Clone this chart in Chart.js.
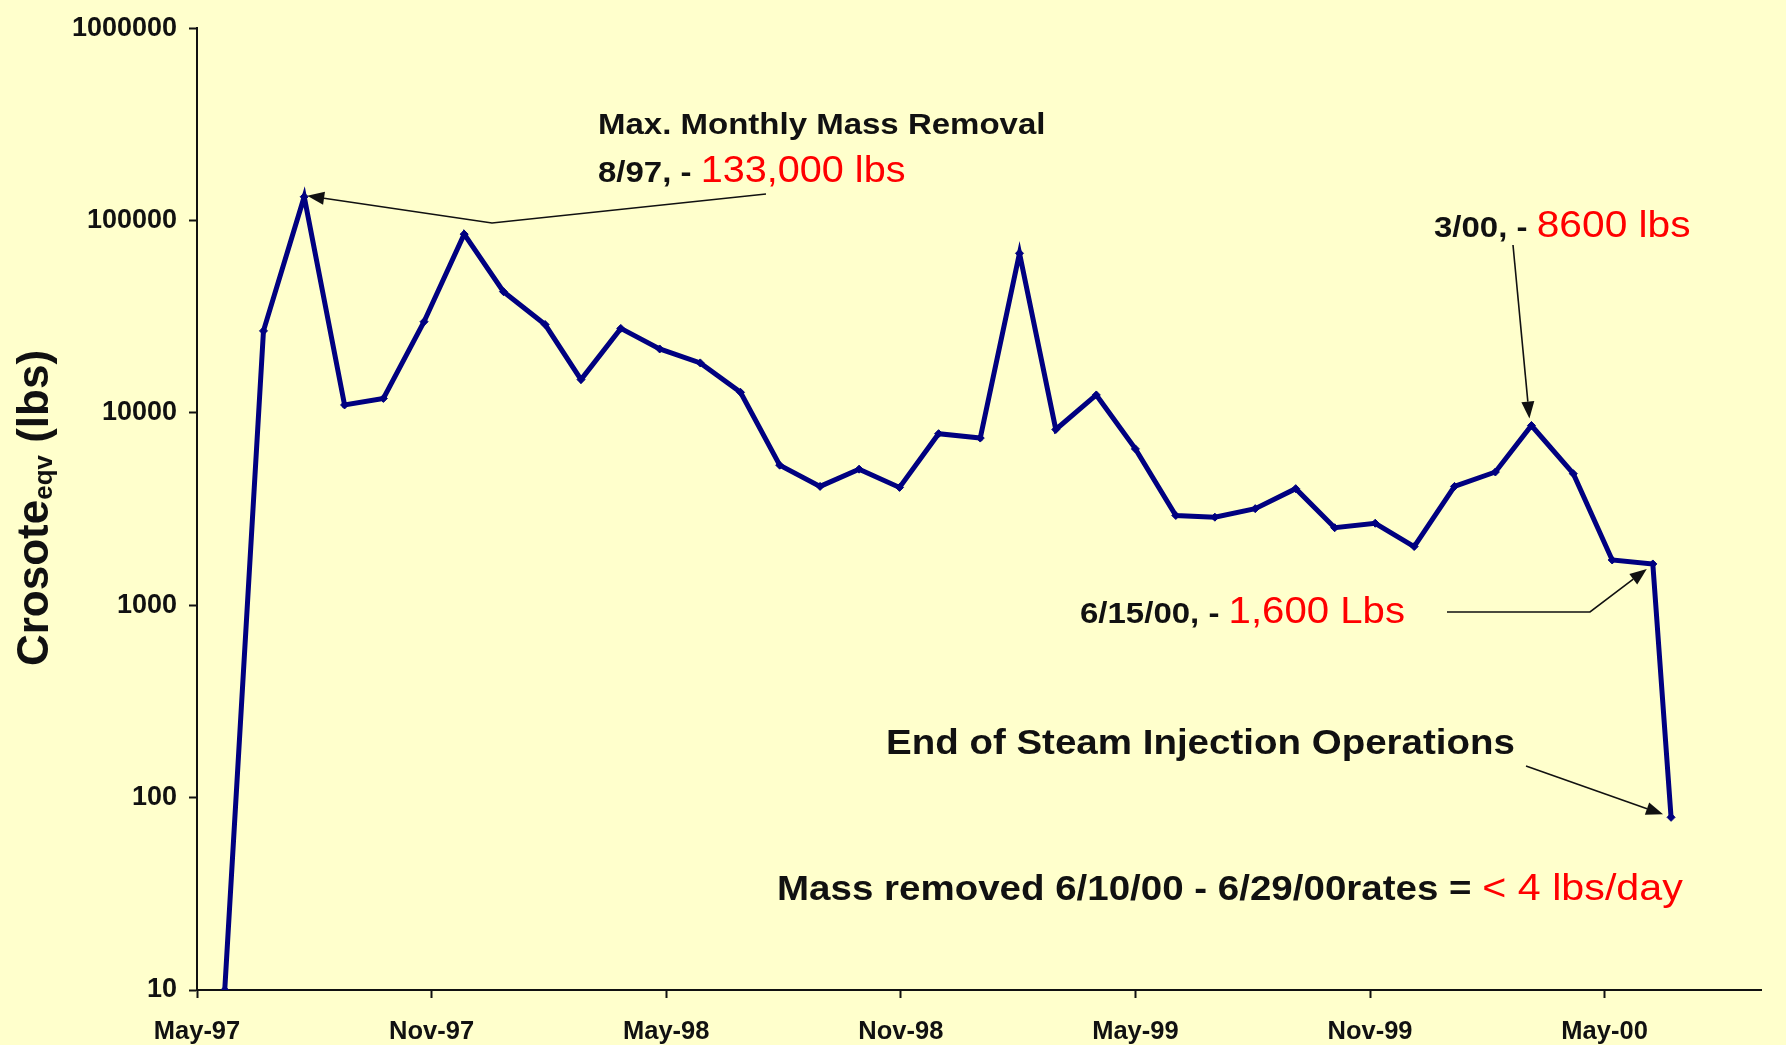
<!DOCTYPE html>
<html>
<head>
<meta charset="utf-8">
<script src="https://cdn.jsdelivr.net/npm/chart.js@4.4.0/dist/chart.umd.min.js"></script>
<style>
html, body { margin: 0; padding: 0; background: #FFFFCC; }
canvas { display: block; }
</style>
</head>
<body>
<canvas id="chart" width="1786" height="1045"></canvas>
<script>
// ---------------- data ----------------
const sampleDates = [
  '1997-05-23', '1997-06-22', '1997-07-24', '1997-08-25', '1997-09-24', '1997-10-26',
  '1997-11-26', '1997-12-27', '1998-01-29', '1998-02-24', '1998-03-27', '1998-04-26',
  '1998-05-28', '1998-06-28', '1998-07-29', '1998-08-30', '1998-09-29', '1998-10-31',
  '1998-11-30', '1999-01-02', '1999-02-02', '1999-02-28', '1999-04-01', '1999-05-01',
  '1999-06-02', '1999-07-02', '1999-08-03', '1999-09-04', '1999-10-04', '1999-11-05',
  '1999-12-05', '2000-01-06', '2000-02-07', '2000-03-05', '2000-04-07', '2000-05-07',
  '2000-06-08', '2000-06-22'
];
const creosoteLbs = [
  10, 26700, 133000, 11000, 11900, 29800,
  85000, 42700, 28800, 14900, 27500, 21500,
  18200, 12800, 5350, 4150, 5100, 4100,
  7800, 7400, 67600, 8200, 12400, 6500,
  2930, 2870, 3180, 4040, 2530, 2670,
  2020, 4150, 4930, 8600, 4830, 1720,
  1640, 79
];
const xTickMonths = [0, 6, 12, 18, 24, 30, 36];
const xTickLabels = ['May-97', 'Nov-97', 'May-98', 'Nov-98', 'May-99', 'Nov-99', 'May-00'];
const yTickValues = [10, 100, 1000, 10000, 100000, 1000000];
const axisStartYear = 1997, axisStartMonth = 5, axisEndMonths = 40;

// ---------------- helpers ----------------
function monthsSinceStart(s) {
  const [y, m, d] = s.split('-').map(Number);
  const dim = new Date(y, m, 0).getDate();
  return (y - axisStartYear) * 12 + (m - axisStartMonth) + (d - 1) / dim;
}
const points = sampleDates.map((d, i) => ({ x: monthsSinceStart(d), y: creosoteLbs[i] }));

const FONT = '"Liberation Sans", Arial, Helvetica, sans-serif';
const STRETCH = 1.1;

function drawRuns(ctx, x, baseline, runs) {
  ctx.save();
  ctx.translate(x, baseline);
  ctx.scale(STRETCH, 1);
  ctx.textBaseline = 'alphabetic';
  ctx.textAlign = 'left';
  let cx = 0;
  for (const r of runs) {
    ctx.font = r.font;
    ctx.fillStyle = r.color;
    ctx.fillText(r.text, cx, 0);
    cx += ctx.measureText(r.text).width;
  }
  ctx.restore();
}

function drawArrow(ctx, pts) {
  ctx.save();
  ctx.strokeStyle = '#111';
  ctx.fillStyle = '#111';
  ctx.lineWidth = 1.6;
  const n = pts.length;
  const [tx, ty] = pts[n - 1];
  const [px, py] = pts[n - 2];
  const ang = Math.atan2(ty - py, tx - px);
  const headLen = 17, headHalf = 6.5;
  const bx = tx - headLen * Math.cos(ang), by = ty - headLen * Math.sin(ang);
  ctx.beginPath();
  ctx.moveTo(pts[0][0], pts[0][1]);
  for (let i = 1; i < n - 1; i++) ctx.lineTo(pts[i][0], pts[i][1]);
  ctx.lineTo(bx, by);
  ctx.stroke();
  ctx.beginPath();
  ctx.moveTo(tx, ty);
  ctx.lineTo(bx + headHalf * Math.sin(ang), by - headHalf * Math.cos(ang));
  ctx.lineTo(bx - headHalf * Math.sin(ang), by + headHalf * Math.cos(ang));
  ctx.closePath();
  ctx.fill();
  ctx.restore();
}

const backgroundPlugin = {
  id: 'bg',
  beforeDraw(chart) {
    const ctx = chart.ctx;
    ctx.save();
    ctx.fillStyle = '#FFFFCC';
    ctx.fillRect(0, 0, chart.width, chart.height);
    ctx.restore();
  }
};

const annotationPlugin = {
  id: 'notes',
  afterDatasetsDraw(chart) {
    const ctx = chart.ctx;
    const xs = chart.scales.x, ys = chart.scales.y;
    const P = i => [xs.getPixelForValue(points[i].x), ys.getPixelForValue(points[i].y)];

    const black = '#111';
    const red = '#FF0000';

    // Max monthly mass removal
    drawRuns(ctx, 598, 134, [{ text: 'Max. Monthly Mass Removal', font: 'bold 30px ' + FONT, color: black }]);
    drawRuns(ctx, 598, 182, [
      { text: '8/97, - ', font: 'bold 30px ' + FONT, color: black },
      { text: '133,000 lbs', font: '36px ' + FONT, color: red }
    ]);
    const p3 = P(2);
    drawArrow(ctx, [[766, 194], [492, 223], [p3[0] + 3, p3[1] - 1]]);

    // 3/00 peak
    drawRuns(ctx, 1434, 237, [
      { text: '3/00, - ', font: 'bold 30px ' + FONT, color: black },
      { text: '8600 lbs', font: '37px ' + FONT, color: red }
    ]);
    const p34 = P(33);
    drawArrow(ctx, [[1513, 245], [p34[0] - 2, p34[1] - 7]]);

    // 6/15/00
    drawRuns(ctx, 1080, 623, [
      { text: '6/15/00, - ', font: 'bold 30px ' + FONT, color: black },
      { text: '1,600 Lbs', font: '36.5px ' + FONT, color: red }
    ]);
    const p37 = P(36);
    drawArrow(ctx, [[1447, 612], [1590, 612], [p37[0] - 6, p37[1] + 5]]);

    // End of steam injection
    drawRuns(ctx, 886, 754, [{ text: 'End of Steam Injection Operations', font: 'bold 35px ' + FONT, color: black }]);
    const p38 = P(37);
    drawArrow(ctx, [[1526, 766], [p38[0] - 8, p38[1] - 3]]);

    // Mass removed
    drawRuns(ctx, 777, 900, [
      { text: 'Mass removed 6/10/00 - 6/29/00rates = ', font: 'bold 35px ' + FONT, color: black },
      { text: '< 4 lbs/day', font: '37.5px ' + FONT, color: red }
    ]);

    // Y axis title with subscript
    ctx.save();
    ctx.translate(48, 508);
    ctx.rotate(-Math.PI / 2);
    const runs = [
      { text: 'Crosote', font: 'bold 44px ' + FONT, dy: 0 },
      { text: 'eqv', font: 'bold 26px ' + FONT, dy: 4 },
      { text: ' (lbs)', font: 'bold 44px ' + FONT, dy: 0 }
    ];
    let total = 0;
    for (const r of runs) { ctx.font = r.font; r.w = ctx.measureText(r.text).width; total += r.w; }
    let cx = -total / 2;
    ctx.fillStyle = black;
    ctx.textBaseline = 'alphabetic';
    for (const r of runs) { ctx.font = r.font; ctx.fillText(r.text, cx, r.dy); cx += r.w; }
    ctx.restore();
  }
};

new Chart(document.getElementById('chart'), {
  type: 'line',
  data: {
    datasets: [{
      data: points,
      borderColor: '#000080',
      backgroundColor: '#000080',
      borderWidth: 5,
      tension: 0,
      pointStyle: 'rectRot',
      pointRadius: 4,
      pointBorderWidth: 1,
      pointBackgroundColor: '#000080',
      pointBorderColor: '#000080'
    }]
  },
  options: {
    responsive: false,
    animation: false,
    devicePixelRatio: 1,
    layout: { padding: { left: 0, right: 25, top: 28, bottom: 0 } },
    plugins: { legend: { display: false }, tooltip: { enabled: false } },
    scales: {
      x: {
        type: 'linear',
        min: 0,
        max: axisEndMonths,
        afterBuildTicks: s => { s.ticks = xTickMonths.map(v => ({ value: v })); },
        afterFit: s => { s.height = 55; },
        border: { display: true, color: '#111', width: 2 },
        grid: { display: true, drawOnChartArea: false, drawTicks: true, tickLength: 8, color: '#111', tickWidth: 2 },
        ticks: {
          autoSkip: false,
          maxRotation: 0,
          padding: 19,
          color: '#111',
          font: { family: FONT, size: 25.5, weight: 'bold' },
          callback: v => { const i = xTickMonths.indexOf(v); return i >= 0 ? xTickLabels[i] : ''; }
        }
      },
      y: {
        type: 'logarithmic',
        min: 10,
        max: 1000000,
        afterBuildTicks: s => { s.ticks = yTickValues.map(v => ({ value: v })); },
        afterFit: s => { s.width = 197; },
        border: { display: true, color: '#111', width: 2 },
        grid: { display: true, drawOnChartArea: false, drawTicks: true, tickLength: 8, color: '#111', tickWidth: 2 },
        ticks: {
          autoSkip: false,
          padding: 12,
          color: '#111',
          font: { family: FONT, size: 27, weight: 'bold' },
          callback: v => String(v)
        }
      }
    }
  },
  plugins: [backgroundPlugin, annotationPlugin]
});
</script>
</body>
</html>
